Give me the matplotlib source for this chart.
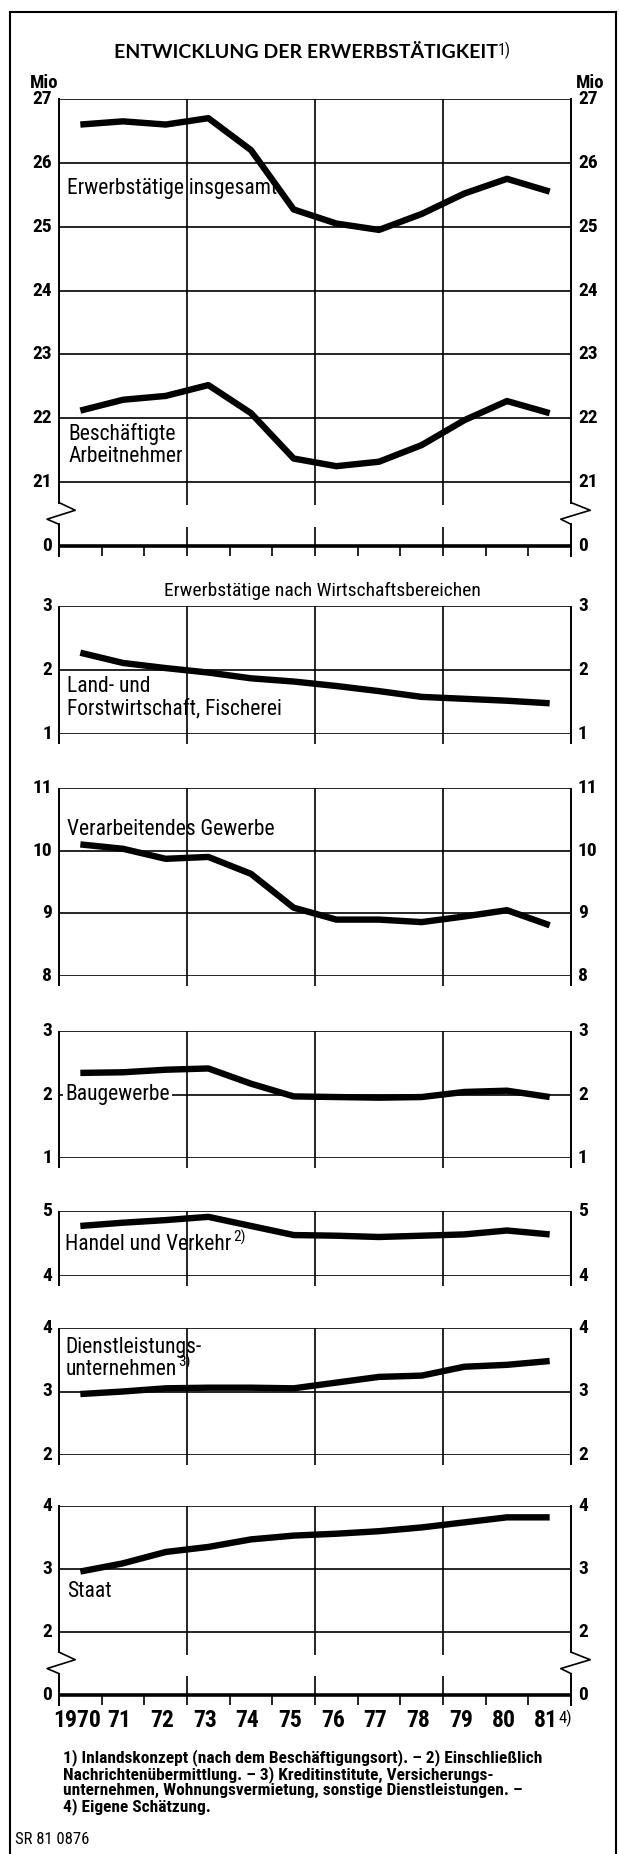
import numpy as np
import matplotlib
matplotlib.use('Agg')
import matplotlib.pyplot as plt
from matplotlib import font_manager as fm

W, H = 619, 1854

years = ['1970', '71', '72', '73', '74', '75', '76', '77', '78', '79', '80', '81']

# Mio
erwerbstaetige = [26.60, 26.65, 26.60, 26.70, 26.20, 25.27, 25.05, 24.95, 25.20, 25.52, 25.75, 25.55]
arbeitnehmer = [22.12, 22.29, 22.35, 22.52, 22.08, 21.37, 21.25, 21.32, 21.58, 21.97, 22.27, 22.08]
land = [2.27, 2.11, 2.03, 1.96, 1.87, 1.82, 1.75, 1.67, 1.58, 1.55, 1.52, 1.48]
verarbeitend = [10.10, 10.03, 9.87, 9.90, 9.63, 9.09, 8.90, 8.90, 8.86, 8.95, 9.05, 8.81]
bau = [2.34, 2.35, 2.39, 2.41, 2.17, 1.97, 1.96, 1.95, 1.96, 2.04, 2.06, 1.96]
handel = [4.77, 4.82, 4.86, 4.91, 4.77, 4.63, 4.62, 4.60, 4.62, 4.64, 4.70, 4.64]
dienst = [2.96, 3.00, 3.05, 3.06, 3.06, 3.05, 3.14, 3.23, 3.25, 3.39, 3.42, 3.48]
staat = [2.96, 3.09, 3.27, 3.35, 3.47, 3.53, 3.56, 3.60, 3.66, 3.74, 3.82, 3.82]

footnotes = [
    '1) Inlandskonzept (nach dem Beschäftigungsort). – 2) Einschließlich',
    'Nachrichtenübermittlung. – 3) Kreditinstitute, Versicherungs-',
    'unternehmen, Wohnungsvermietung, sonstige Dienstleistungen. –',
    '4) Eigene Schätzung.',
]

# pick a narrow font if one is there
names = {f.name for f in fm.fontManager.ttflist}
NARROW_KW = None
SCALE = 1.0
for cand in ['Liberation Sans Narrow', 'Roboto Condensed', 'DejaVu Sans Condensed',
             'Noto Sans Condensed', 'Open Sans Condensed', 'Arial Narrow']:
    if cand in names:
        NARROW_KW = dict(family=[cand, 'DejaVu Sans'])
        break
if NARROW_KW is None:
    NARROW_KW = dict(family=['Roboto', 'DejaVu Sans'])
    SCALE = 0.9

xs = np.arange(len(years)) + 0.5
LEFT, RIGHT = 59, 571
LW_GRID = 1.2
LW_DATA = 4.6

fig = plt.figure(figsize=(W / 100, H / 100), dpi=100)
fig.patch.set_facecolor('white')


def fx(x):
    return x / W


def fy(y):
    return 1 - y / H


def nfont(size, **kw):
    d = dict(NARROW_KW)
    d['fontsize'] = size * SCALE
    d.update(kw)
    return d


def make_panel(top_px, bot_px, lo, hi, ticks, ticklabels):
    ax = fig.add_axes([fx(LEFT), fy(bot_px), (RIGHT - LEFT) / W, (bot_px - top_px) / H])
    ax.set_xlim(0, 12)
    ax.set_ylim(lo, hi)
    ax.patch.set_visible(False)
    for s in ax.spines.values():
        s.set_visible(False)
    ax.set_xticks([])
    ax.set_yticks([])
    for v, lbl in zip(ticks, ticklabels):
        ax.annotate(lbl, xy=(0, v), xycoords=('axes fraction', 'data'), xytext=(-5, 0),
                    textcoords='offset points', ha='right', va='center',
                    **nfont(14, fontweight='bold'))
        ax.annotate(lbl, xy=(1, v), xycoords=('axes fraction', 'data'), xytext=(5, 0),
                    textcoords='offset points', ha='left', va='center',
                    **nfont(14, fontweight='bold'))
    ax.unit = (bot_px - top_px) / (hi - lo)
    return ax


def vline(ax, x, y0, y1, lw=LW_GRID):
    ax.plot([x, x], [y0, y1], color='black', lw=lw, clip_on=False, solid_capstyle='butt')


def plain_frame(ax, lo, hi):
    ext = 10 / ax.unit
    for v in range(int(lo), int(hi) + 1):
        ax.axhline(v, color='black', lw=LW_GRID)
    for x in [0, 3, 6, 9, 12]:
        vline(ax, x, lo - ext, hi, lw=1.4 if x in (0, 12) else LW_GRID)


def broken_frame(ax, lo, hi):
    ext = 10 / ax.unit
    for v in range(int(lo) + 1, int(hi) + 1):
        ax.axhline(v, color='black', lw=LW_GRID)
    ax.plot([0, 12], [lo, lo], color='black', lw=2.6, clip_on=False, solid_capstyle='butt')
    zy = [lo + 0.68, lo + 0.56, lo + 0.42, lo + 0.34]
    for x0, dx in [(0, [0, 0.38, -0.28, 0]), (12, [0, 0.45, -0.24, 0])]:
        ax.plot([x0, x0], [hi, zy[0]], color='black', lw=1.4, clip_on=False)
        ax.plot([x0 + d for d in dx], zy, color='black', lw=1.2, clip_on=False)
        ax.plot([x0, x0], [zy[-1], lo - ext], color='black', lw=1.4, clip_on=False)
    for x in [3, 6, 9]:
        vline(ax, x, lo + 0.64, hi)
        vline(ax, x, lo + 0.30, lo - ext)
    for x in [1, 2, 4, 5, 7, 8, 10, 11]:
        vline(ax, x, lo, lo - ext)


def series(ax, values):
    ax.plot(xs, values, color='black', lw=LW_DATA, solid_joinstyle='round',
            solid_capstyle='butt', zorder=5)


def label(ax, x, y, s, box=False, sup=None):
    t = ax.text(x, y, s, ha='left', va='center', zorder=6,
                bbox=dict(facecolor='white', edgecolor='none', pad=1.5) if box else None,
                **nfont(15.5))
    if sup:
        ax.annotate(sup, xy=(1, 0.5), xycoords=t, xytext=(1.5, 0), textcoords='offset points',
                    ha='left', va='bottom', zorder=6, **nfont(11))
    return t


# top panel: total and employees (0 .. 21-27 with break)
ax0 = make_panel(99, 546, 20, 27, list(range(20, 28)), ['0'] + [str(v) for v in range(21, 28)])
broken_frame(ax0, 20, 27)
series(ax0, erwerbstaetige)
series(ax0, arbeitnehmer)
label(ax0, 0.19, 25.6, 'Erwerbstätige insgesamt')
label(ax0, 0.22, 21.75, 'Beschäftigte')
label(ax0, 0.22, 21.40, 'Arbeitnehmer')

ax1 = make_panel(606, 734, 1, 3, [1, 2, 3], ['1', '2', '3'])
plain_frame(ax1, 1, 3)
series(ax1, land)
label(ax1, 0.19, 1.75, 'Land- und')
label(ax1, 0.19, 1.39, 'Forstwirtschaft, Fischerei')

ax2 = make_panel(788, 976, 8, 11, [8, 9, 10, 11], ['8', '9', '10', '11'])
plain_frame(ax2, 8, 11)
series(ax2, verarbeitend)
label(ax2, 0.19, 10.34, 'Verarbeitendes Gewerbe')

ax3 = make_panel(1031, 1158, 1, 3, [1, 2, 3], ['1', '2', '3'])
plain_frame(ax3, 1, 3)
series(ax3, bau)
label(ax3, 0.14, 2.0, 'Baugewerbe', box=True)

ax4 = make_panel(1211, 1276, 4, 5, [4, 5], ['4', '5'])
plain_frame(ax4, 4, 5)
series(ax4, handel)
label(ax4, 0.15, 4.48, 'Handel und Verkehr', sup='2)')

ax5 = make_panel(1328, 1455, 2, 4, [2, 3, 4], ['2', '3', '4'])
plain_frame(ax5, 2, 4)
series(ax5, dienst)
label(ax5, 0.15, 3.69, 'Dienstleistungs-')
label(ax5, 0.15, 3.34, 'unternehmen', sup='3)')

ax6 = make_panel(1506, 1695, 1, 4, [1, 2, 3, 4], ['0', '2', '3', '4'])
broken_frame(ax6, 1, 4)
series(ax6, staat)
label(ax6, 0.19, 2.64, 'Staat')

for x, yr in zip(xs, years):
    t = ax6.annotate(yr, xy=(x, 1), xytext=(-2.5, -18.5), textcoords='offset points',
                     ha='center', va='center', **nfont(17, fontweight='bold'))
    if yr == '81':
        ax6.annotate('4)', xy=(1, 0.6), xycoords=t, ha='left', va='center', **nfont(12))

# titles and outer texts
t = fig.text(fx(306), fy(52), 'ENTWICKLUNG DER ERWERBSTÄTIGKEIT', ha='center', va='center',
             family=['Lato', 'DejaVu Sans'], fontweight='bold', fontsize=14)
ax0.annotate('1)', xy=(1, 0.62), xycoords=t, ha='left', va='center', **nfont(11.5))

fig.text(fx(44), fy(83), 'Mio', ha='center', va='center', **nfont(13.5, fontweight='bold'))
fig.text(fx(590), fy(83), 'Mio', ha='center', va='center', **nfont(13.5, fontweight='bold'))
fig.text(fx(322), fy(591), 'Erwerbstätige nach Wirtschaftsbereichen', ha='center', va='center',
         **nfont(14))

for i, line in enumerate(footnotes):
    fig.text(fx(63), fy(1758 + i * 16.3), line, ha='left', va='center',
             **nfont(12.5, fontweight='bold'))
fig.text(fx(15), fy(1839), 'SR 81 0876', ha='left', va='center', **nfont(12))

# outer frame
FL, FT, FR = 10, 12, 616
fig.add_artist(plt.Line2D([fx(FL), fx(FL)], [fy(FT), 0], color='black', lw=1.5))
fig.add_artist(plt.Line2D([fx(FL), fx(FR)], [fy(FT), fy(FT)], color='black', lw=1.5))
fig.add_artist(plt.Line2D([fx(FR), fx(FR)], [fy(FT), 0], color='black', lw=1.5))

fig.savefig('out.png', dpi=100)
